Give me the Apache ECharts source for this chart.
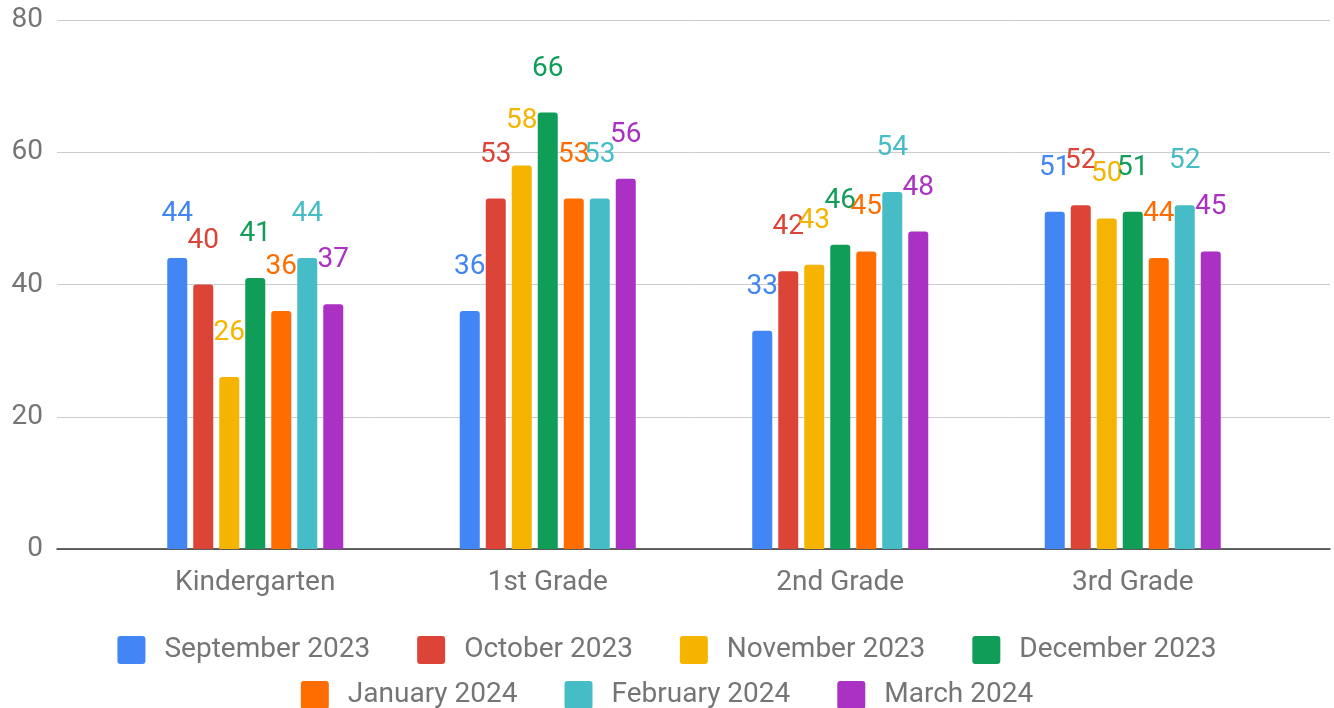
<!DOCTYPE html>
<html>
<head>
<meta charset="utf-8">
<script src="https://cdn.jsdelivr.net/npm/echarts@6/dist/echarts.min.js"></script>
<style>
  html, body { margin: 0; padding: 0; background: #fff; }
  #main { width: 1334px; height: 708px; }
</style>
</head>
<body>
<div id="main"></div>
<script>
const grades = ['Kindergarten', '1st Grade', '2nd Grade', '3rd Grade'];
const months = ['September 2023', 'October 2023', 'November 2023', 'December 2023',
  'January 2024', 'February 2024', 'March 2024'];
const sep2023 = [44, 36, 33, 51];
const oct2023 = [40, 53, 42, 52];
const nov2023 = [26, 58, 43, 50];
const dec2023 = [41, 66, 46, 51];
const jan2024 = [36, 53, 45, 44];
const feb2024 = [44, 53, 54, 52];
const mar2024 = [37, 56, 48, 45];
const yTicks = [0, 20, 40, 60, 80];

const colors = ['#4285F4', '#DB4437', '#F4B400', '#0F9D58', '#FF6D01', '#46BDC6', '#AB30C4'];
const values = [sep2023, oct2023, nov2023, dec2023, jan2024, feb2024, mar2024];
const font = 'Roboto';
const textGrey = '#757575';

const chart = echarts.init(document.getElementById('main'));

// one bar series per month, drawn in the inner grid
const series = months.map((name, i) => ({
  name: name,
  type: 'bar',
  xAxisIndex: 1,
  yAxisIndex: 1,
  data: values[i],
  barWidth: 20,
  barGap: '30%',
  itemStyle: { color: colors[i], borderRadius: [3, 3, 0, 0] },
  label: {
    show: true,
    position: 'top',
    distance: 30,
    color: colors[i],
    fontFamily: font,
    fontSize: 28
  }
}));

// small rounded square for the legend
const squareIcon = 'path://M3,0 H25 Q28,0 28,3 V25 Q28,28 25,28 H3 Q0,28 0,25 V3 Q0,0 3,0 Z';

const legendBase = {
  icon: squareIcon,
  itemWidth: 28,
  itemHeight: 28,
  itemGap: 47,
  left: 'center',
  textStyle: { color: textGrey, fontFamily: font, fontSize: 28, padding: [0, 0, 0, 14] }
};

chart.setOption({
  color: colors,
  animation: false,
  legend: [
    Object.assign({}, legendBase, { top: 631, data: months.slice(0, 4) }),
    Object.assign({}, legendBase, { top: 676, data: months.slice(4) })
  ],
  grid: [
    // outer grid: gridlines, y labels and baseline across the full width
    { left: 57, right: 4, top: 20, bottom: 159 },
    // inner grid: where the bar groups sit
    { left: 109, right: 55, top: 20, bottom: 159 }
  ],
  xAxis: [
    {
      gridIndex: 0,
      type: 'category',
      data: grades,
      axisLine: { lineStyle: { color: '#333', width: 1.5 } },
      axisTick: { show: false },
      axisLabel: { show: false }
    },
    {
      gridIndex: 1,
      type: 'category',
      data: grades,
      axisLine: { show: false },
      axisTick: { show: false },
      axisLabel: { color: textGrey, fontFamily: font, fontSize: 28, margin: 20 }
    }
  ],
  yAxis: [
    {
      gridIndex: 0,
      type: 'value',
      min: yTicks[0],
      max: yTicks[yTicks.length - 1],
      interval: 20,
      axisLabel: { color: textGrey, fontFamily: font, fontSize: 28, margin: 14 },
      splitLine: { lineStyle: { color: '#cccccc' } }
    },
    {
      gridIndex: 1,
      type: 'value',
      min: yTicks[0],
      max: yTicks[yTicks.length - 1],
      interval: 20,
      show: false,
      splitLine: { show: false }
    }
  ],
  series: series
});
</script>
</body>
</html>
